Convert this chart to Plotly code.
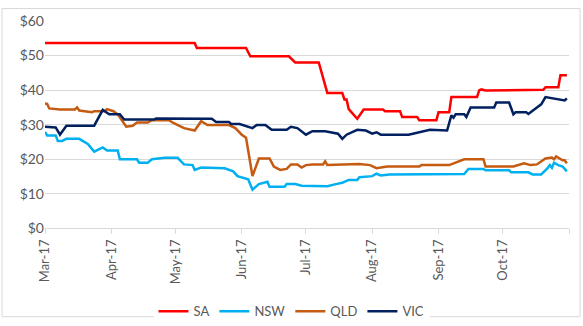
import plotly.graph_objects as go

# ---- data ----
sa_dates = ["2017-03-01", "2017-05-10", "2017-05-11", "2017-06-03", "2017-06-05", "2017-06-23",
            "2017-06-26", "2017-07-07", "2017-07-11", "2017-07-18", "2017-07-19", "2017-07-20",
            "2017-07-21", "2017-07-25", "2017-07-28", "2017-08-06", "2017-08-07", "2017-08-14",
            "2017-08-15", "2017-08-22", "2017-08-23", "2017-08-31", "2017-09-01", "2017-09-06",
            "2017-09-07", "2017-09-19", "2017-09-20", "2017-09-21", "2017-09-23", "2017-10-20",
            "2017-10-21", "2017-10-27", "2017-10-28", "2017-10-31"]
sa_vals = [53.6, 53.6, 52.2, 52.2, 49.8, 49.8,
           48.0, 48.0, 39.2, 39.2, 37.3, 37.3,
           34.5, 31.7, 34.4, 34.4, 33.9, 33.9,
           32.2, 32.2, 31.3, 31.3, 33.6, 33.6,
           38.0, 38.0, 39.9, 40.2, 39.9, 40.1,
           40.8, 40.8, 44.3, 44.3]

nsw_dates = ["2017-03-01", "2017-03-02", "2017-03-06", "2017-03-07", "2017-03-09", "2017-03-11",
             "2017-03-17", "2017-03-21", "2017-03-24", "2017-03-28", "2017-03-30", "2017-04-04",
             "2017-04-05", "2017-04-13", "2017-04-14", "2017-04-18", "2017-04-20", "2017-04-26",
             "2017-05-02", "2017-05-05", "2017-05-09", "2017-05-10", "2017-05-13", "2017-05-24",
             "2017-05-28", "2017-05-30", "2017-06-04", "2017-06-06", "2017-06-09", "2017-06-13",
             "2017-06-14", "2017-06-21", "2017-06-22", "2017-06-26", "2017-06-29", "2017-07-11",
             "2017-07-15", "2017-07-18", "2017-07-21", "2017-07-25", "2017-07-26", "2017-08-01",
             "2017-08-03", "2017-08-05", "2017-08-09", "2017-08-30", "2017-09-13", "2017-09-15",
             "2017-09-22", "2017-09-23", "2017-10-04", "2017-10-05", "2017-10-13", "2017-10-15",
             "2017-10-19", "2017-10-22", "2017-10-23", "2017-10-24", "2017-10-25", "2017-10-27",
             "2017-10-29", "2017-10-31"]
nsw_vals = [27.9, 26.9, 26.9, 25.3, 25.3, 25.9,
            25.9, 24.4, 22.2, 23.4, 22.5, 22.5,
            20.0, 20.0, 19.0, 19.0, 20.0, 20.4,
            20.4, 18.5, 18.3, 16.9, 17.6, 17.4,
            16.5, 15.1, 14.2, 11.2, 12.8, 13.5,
            12.0, 12.0, 12.8, 12.8, 12.3, 12.2,
            12.8, 13.2, 14.0, 14.0, 14.8, 15.1,
            15.8, 15.3, 15.6, 15.7, 15.7, 17.2,
            17.2, 16.8, 16.8, 16.2, 16.2, 15.6,
            15.6, 17.4, 18.3, 17.5, 19.0, 18.3,
            17.9, 16.5]

qld_dates = ["2017-03-01", "2017-03-02", "2017-03-03", "2017-03-08", "2017-03-15", "2017-03-16",
             "2017-03-17", "2017-03-21", "2017-03-23", "2017-03-24", "2017-03-29", "2017-03-30",
             "2017-04-02", "2017-04-04", "2017-04-08", "2017-04-11", "2017-04-13", "2017-04-18",
             "2017-04-20", "2017-04-28", "2017-04-30", "2017-05-05", "2017-05-10", "2017-05-13",
             "2017-05-16", "2017-05-26", "2017-05-29", "2017-06-01", "2017-06-03", "2017-06-06",
             "2017-06-09", "2017-06-14", "2017-06-16", "2017-06-19", "2017-06-22", "2017-06-24",
             "2017-06-27", "2017-06-29", "2017-07-01", "2017-07-04", "2017-07-09", "2017-07-10",
             "2017-07-11", "2017-07-26", "2017-07-31", "2017-08-03", "2017-08-08", "2017-08-23",
             "2017-08-24", "2017-09-06", "2017-09-10", "2017-09-13", "2017-09-22", "2017-09-23",
             "2017-10-06", "2017-10-11", "2017-10-14", "2017-10-17", "2017-10-21", "2017-10-24",
             "2017-10-25", "2017-10-26", "2017-10-29", "2017-10-30", "2017-10-31"]
qld_vals = [36.1, 36.0, 34.7, 34.4, 34.4, 35.0,
            34.1, 33.9, 33.6, 33.9, 33.9, 34.5,
            33.9, 33.0, 29.4, 29.7, 30.6, 30.6,
            31.3, 31.3, 30.5, 29.0, 28.3, 31.0,
            29.9, 29.9, 29.0, 27.1, 26.2, 15.1,
            20.2, 20.2, 17.9, 16.9, 17.2, 18.5,
            18.5, 17.6, 18.3, 18.5, 18.5, 19.4,
            18.3, 18.6, 18.3, 17.4, 17.9, 17.9,
            18.3, 18.3, 19.3, 20.0, 20.0, 17.9,
            17.9, 18.8, 18.3, 18.5, 20.2, 20.5,
            20.0, 20.8, 19.7, 19.7, 18.8]

vic_dates = ["2017-03-01", "2017-03-06", "2017-03-08", "2017-03-11", "2017-03-24", "2017-03-28",
             "2017-03-31", "2017-04-05", "2017-04-07", "2017-04-21", "2017-04-22", "2017-05-18",
             "2017-05-20", "2017-05-26", "2017-05-27", "2017-05-31", "2017-06-06", "2017-06-08",
             "2017-06-12", "2017-06-15", "2017-06-22", "2017-06-24", "2017-06-27", "2017-07-01",
             "2017-07-04", "2017-07-10", "2017-07-16", "2017-07-18", "2017-07-20", "2017-07-25",
             "2017-07-29", "2017-08-01", "2017-08-03", "2017-08-05", "2017-08-18", "2017-08-23",
             "2017-08-28", "2017-09-05", "2017-09-07", "2017-09-08", "2017-09-09", "2017-09-13",
             "2017-09-14", "2017-09-16", "2017-09-27", "2017-09-28", "2017-10-04", "2017-10-06",
             "2017-10-07", "2017-10-12", "2017-10-13", "2017-10-17", "2017-10-19", "2017-10-21",
             "2017-10-26", "2017-10-30", "2017-10-31"]
vic_vals = [29.4, 29.2, 27.1, 29.7, 29.7, 34.3,
            33.0, 33.0, 31.5, 31.5, 31.8, 31.7,
            30.8, 30.8, 30.2, 30.2, 29.0, 29.9,
            29.9, 28.5, 28.5, 29.4, 29.0, 27.1,
            28.1, 28.1, 27.4, 25.9, 27.1, 28.5,
            28.3, 27.4, 27.8, 27.1, 27.1, 27.8,
            28.5, 28.3, 32.7, 32.0, 33.0, 33.0,
            32.2, 35.0, 35.0, 36.4, 36.4, 33.0,
            33.6, 33.6, 33.1, 35.0, 35.9, 38.0,
            37.5, 37.0, 37.6]

series_names = ["SA", "NSW", "QLD", "VIC"]
series_colors = ["#FF0000", "#00B0F0", "#C55A11", "#002060"]

tick_dates = ["2017-03-01", "2017-04-01", "2017-05-01", "2017-06-01", "2017-07-01",
              "2017-08-01", "2017-09-01", "2017-10-01", "2017-11-01"]
tick_labels = ["Mar-17", "Apr-17", "May-17", "Jun-17", "Jul-17",
               "Aug-17", "Sep-17", "Oct-17", ""]

y_ticks = [0, 10, 20, 30, 40, 50, 60]
y_labels = ["$0", "$10", "$20", "$30", "$40", "$50", "$60"]

# ---- figure ----
FONT = "Lato"
TXT = "#595959"
GRID = "#D9D9D9"

fig = go.Figure()
all_data = [(sa_dates, sa_vals), (nsw_dates, nsw_vals), (qld_dates, qld_vals), (vic_dates, vic_vals)]
for (d, v), name, col in zip(all_data, series_names, series_colors):
    fig.add_trace(go.Scatter(x=d, y=v, name=name, mode="lines",
                             line=dict(color=col, width=2.5)))

fig.update_layout(
    width=583, height=326,
    margin=dict(l=45, r=14, t=15, b=95),
    paper_bgcolor="white", plot_bgcolor="white",
    font=dict(family=FONT, size=13, color=TXT),
    showlegend=True,
    legend=dict(orientation="h", xref="container", yref="container",
                x=0.5, xanchor="center", y=0.045, yanchor="middle",
                font=dict(family=FONT, size=13, color=TXT),
                itemwidth=30, tracegroupgap=0),
)
fig.update_xaxes(
    type="date", range=["2017-03-01", "2017-11-01"],
    tickmode="array", tickvals=tick_dates, ticktext=tick_labels,
    tickangle=-90, ticks="outside", ticklen=5, tickcolor=GRID,
    showgrid=False, showline=True, linecolor=GRID, linewidth=1,
    zeroline=False, tickfont=dict(family=FONT, size=13, color=TXT),
)
fig.update_yaxes(
    range=[0, 60], tickmode="array", tickvals=y_ticks, ticktext=y_labels,
    showgrid=True, gridcolor=GRID, gridwidth=1, zeroline=False, showline=False,
    tickfont=dict(family=FONT, size=14, color=TXT),
)
# chart area border
fig.add_shape(type="rect", xref="paper", yref="paper",
              x0=-0.082, x1=1.021, y0=-0.426, y1=1.060,
              line=dict(color="#D9D9D9", width=1), layer="below")

fig.write_html("out.html")
